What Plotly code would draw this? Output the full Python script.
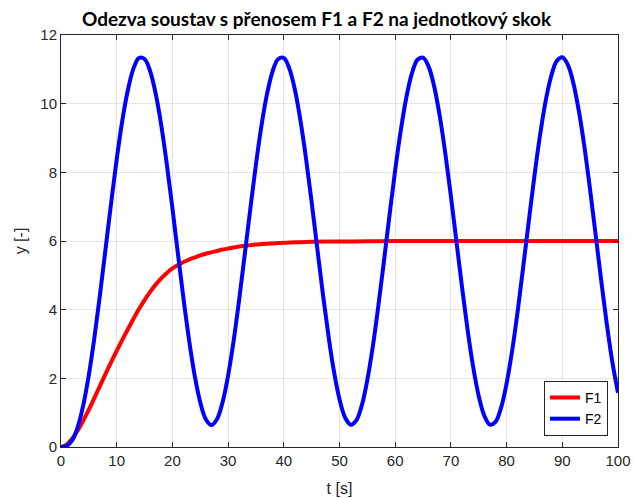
import plotly.graph_objects as go

# Time samples [s]
t_f1 = list(range(0, 41)) + [42, 45, 50, 55, 60, 70, 80, 90, 100]
f1 = [0.0, 0.07, 0.24, 0.48, 0.77, 1.09, 1.43, 1.78, 2.13, 2.47,
      2.80, 3.12, 3.43, 3.73, 4.02, 4.28, 4.52, 4.73, 4.91, 5.07,
      5.20, 5.30, 5.39, 5.46, 5.52, 5.58, 5.63, 5.67, 5.71, 5.75,
      5.78, 5.81, 5.84, 5.86, 5.88, 5.895, 5.91, 5.92, 5.93, 5.94,
      5.95, 5.96, 5.975, 5.985, 5.99, 6.0, 6.0, 6.0, 6.0, 6.0]

t_f2 = list(range(0, 101))
f2 = [0.0, 0.03, 0.19, 0.58, 1.22, 2.10, 3.19, 4.44, 5.77, 7.11,
      8.38, 9.50, 10.39, 11.02, 11.33, 11.30, 10.95, 10.29, 9.37, 8.23,
      6.96, 5.62, 4.31, 3.11, 2.08, 1.30, 0.81, 0.64, 0.81, 1.30,
      2.08, 3.10, 4.31, 5.62, 6.95, 8.23, 9.37, 10.29, 10.95, 11.30,
      11.33, 11.02, 10.40, 9.50, 8.39, 7.13, 5.80, 4.48, 3.26, 2.20,
      1.39, 0.86, 0.65, 0.77, 1.21, 1.96, 2.95, 4.14, 5.44, 6.78,
      8.07, 9.22, 10.18, 10.88, 11.28, 11.34, 11.08, 10.50, 9.64, 8.55,
      7.30, 5.98, 4.65, 3.41, 2.33, 1.48, 0.91, 0.65, 0.73, 1.14,
      1.85, 2.81, 3.97, 5.27, 6.60, 7.90, 9.08, 10.07, 10.80, 11.24,
      11.35, 11.13, 10.59, 9.76, 8.71, 7.48, 6.16, 4.83, 3.57, 2.46,
      1.58]

x_ticks = [0, 10, 20, 30, 40, 50, 60, 70, 80, 90, 100]
y_ticks = [0, 2, 4, 6, 8, 10, 12]

fig = go.Figure()
fig.add_trace(go.Scatter(x=t_f1, y=f1, mode="lines", name="F1",
                         line=dict(color="#ff0000", width=4, shape="spline")))
fig.add_trace(go.Scatter(x=t_f2, y=f2, mode="lines", name="F2",
                         line=dict(color="#0000ff", width=4, shape="spline")))

axis_common = dict(
    showline=True, linecolor="#262626", linewidth=1, mirror="ticks",
    ticks="inside", ticklen=5, tickcolor="#262626", automargin=False,
    showgrid=True, gridcolor="#e5e5e5", gridwidth=1, zeroline=False,
    tickfont=dict(family="Liberation Sans, Arial, sans-serif", size=15, color="#262626"),
)

fig.update_layout(
    width=633, height=498,
    margin=dict(l=61, r=15, t=35, b=51),
    paper_bgcolor="white", plot_bgcolor="white",
    title=dict(text="<b>Odezva soustav s přenosem F1 a F2 na jednotkový skok</b>",
               font=dict(family="Lato, Open Sans, sans-serif", size=19, color="#000000"),
               x=0.5, xref="container", y=0.962, yref="container",
               xanchor="center", yanchor="middle"),
    xaxis=dict(range=[0, 100], tickvals=x_ticks,
               title=dict(text="t [s]", standoff=14,
                          font=dict(family="Liberation Sans, Arial, sans-serif", size=16, color="#262626")),
               **axis_common),
    yaxis=dict(range=[0, 12], tickvals=y_ticks,
               title=dict(text="y [-]", standoff=9,
                          font=dict(family="Liberation Sans, Arial, sans-serif", size=16, color="#262626")),
               **axis_common),
    legend=dict(x=0.982, y=0.027, xanchor="right", yanchor="bottom",
                bgcolor="white", bordercolor="#262626", borderwidth=1,
                font=dict(family="Liberation Sans, Arial, sans-serif", size=14, color="#000000"),
                tracegroupgap=0, itemwidth=30),
    showlegend=True,
)

fig.write_html(
    "out.html",
    config={"displayModeBar": False},
    post_script="document.body.style.margin='0px';document.body.style.overflow='hidden';",
)
